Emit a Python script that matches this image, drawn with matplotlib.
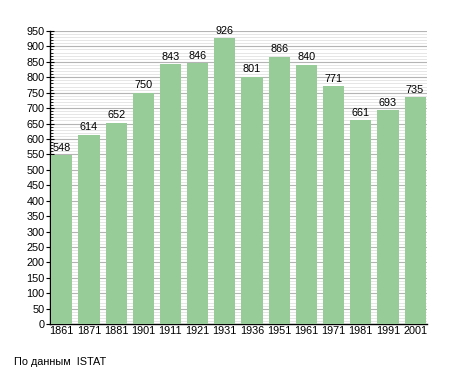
import matplotlib
matplotlib.use('Agg')
import matplotlib.pyplot as plt
from matplotlib.ticker import MultipleLocator

# Population by census year
years = ['1861', '1871', '1881', '1901', '1911', '1921', '1931',
         '1936', '1951', '1961', '1971', '1981', '1991', '2001']
population = [548, 614, 652, 750, 843, 846, 926,
              801, 866, 840, 771, 661, 693, 735]

plt.rcParams['font.family'] = ['Liberation Sans', 'DejaVu Sans']

fig = plt.figure(figsize=(4.55, 3.73), dpi=100)
ax = fig.add_axes([0.110, 0.131, 0.828, 0.786])

x = range(len(years))
ax.bar(x, population, width=0.78, color='#97cb97', zorder=3)

for xi, val in zip(x, population):
    ax.text(xi, val + 8, str(val), ha='center', va='bottom', fontsize=7.8, zorder=4)

# Grid: darker every 50, light every 10
ax.set_ylim(0, 950)
ax.set_xlim(-0.43, len(years) - 0.57)
ax.yaxis.set_major_locator(MultipleLocator(50))
ax.yaxis.set_minor_locator(MultipleLocator(10))
ax.grid(axis='y', which='major', color='#b4b4b4', linewidth=0.8, zorder=0)
ax.grid(axis='y', which='minor', color='#e2e2e2', linewidth=0.6, zorder=0)

ax.set_xticks(list(x))
ax.set_xticklabels(years)
ax.tick_params(axis='x', length=0, labelsize=7.8, pad=1.5)
ax.tick_params(axis='y', which='major', direction='inout', length=6, width=0.8,
               labelsize=7.8, pad=1)
ax.tick_params(axis='y', which='minor', direction='in', length=2.5, width=0.6)

for side in ['top', 'right']:
    ax.spines[side].set_visible(False)
ax.spines['left'].set_linewidth(1.0)
ax.spines['bottom'].set_linewidth(1.0)

fig.text(14 / 455, 1 - 362 / 373, 'По данным  ISTAT', fontsize=7.8, va='center', ha='left')

plt.savefig('out.png', dpi=100)
